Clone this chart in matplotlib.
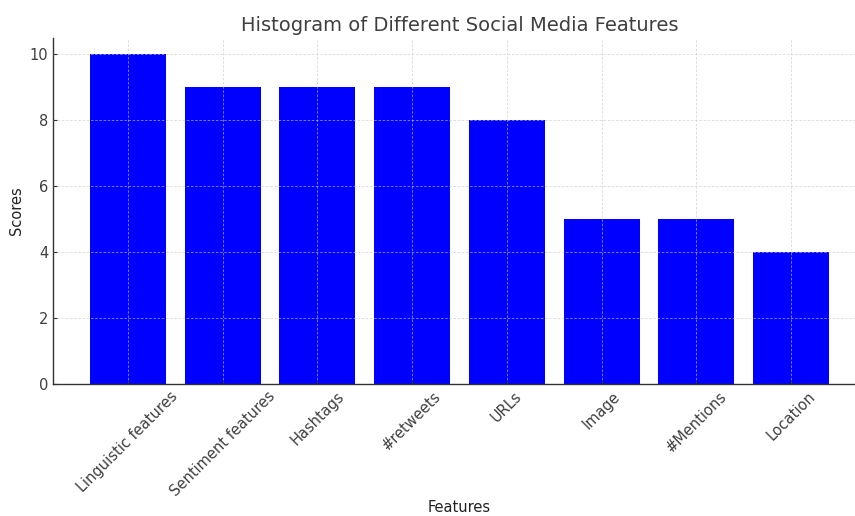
import matplotlib
matplotlib.use("Agg")
import matplotlib.pyplot as plt

features = ["Linguistic features", "Sentiment features", "Hashtags", "#retweets",
            "URLs", "Image", "#Mentions", "Location"]
scores = [10, 9, 9, 9, 8, 5, 5, 4]

text_color = "#3f3f3f"
plt.rcParams["font.family"] = "DejaVu Sans"

fig = plt.figure(figsize=(8.55, 5.16), dpi=100)
ax = fig.add_axes([53 / 855, 1 - 384 / 516, 813 / 855, 346 / 516])

ax.bar(range(len(features)), scores, color="blue", width=0.8, zorder=2)
ax.set_ylim(0, 10.5)
ax.set_xticks(range(len(features)))
ax.set_xticklabels(features, rotation=45, fontsize=10.5, color=text_color)
ax.tick_params(axis="y", labelsize=10.5, labelcolor=text_color)
ax.tick_params(axis="both", direction="in", length=3, color="#333333")

ax.set_title("Histogram of Different Social Media Features", fontsize=14,
             color=text_color, pad=5)
ax.set_xlabel("Features", fontsize=10.5, color="#222222")
ax.xaxis.set_label_coords(0.5, -0.335)
ax.set_ylabel("Scores", fontsize=10.5, color="#222222")

ax.grid(True, linestyle="--", dashes=(3, 2), color="#c8c8c8", linewidth=0.6,
        alpha=0.7, zorder=3)
ax.set_axisbelow(False)
for side in ("top", "right"):
    ax.spines[side].set_visible(False)
for side in ("left", "bottom"):
    ax.spines[side].set_color("#333333")
    ax.spines[side].set_linewidth(1.0)

fig.savefig("out.png", dpi=100)
